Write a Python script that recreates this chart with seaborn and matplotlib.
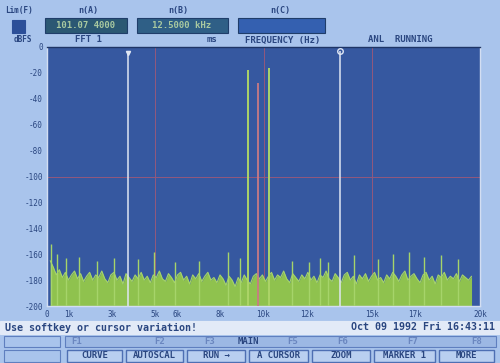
import numpy as np
import matplotlib
matplotlib.use("Agg")
import matplotlib.pyplot as plt
from matplotlib.patches import Rectangle
import seaborn as sns

sns.set_style("dark")
plt.rcParams['font.family'] = ['DejaVu Sans Mono', 'DejaVu Sans']

# ---- data ----
floor_start_hz = 150
floor_step_hz = 140
floor_db = [
    -165, -170, -176, -172, -178, -174, -180, -176, -173, -179,
    -175, -181, -177, -174, -180, -176, -178, -173, -179, -182,
    -176, -174, -180, -177, -183, -175, -178, -181, -176, -179,
    -174, -180, -177, -182, -176, -178, -173, -179, -181, -175,
    -178, -182, -176, -174, -180, -177, -183, -176, -179, -175,
    -181, -177, -174, -180, -178, -182, -176, -179, -184, -177,
    -180, -185, -178, -182, -176, -180, -183, -177, -175, -179,
    -176, -181, -177, -174, -180, -176, -178, -173, -179, -182,
    -175, -178, -181, -176, -179, -174, -180, -177, -182, -176,
    -178, -173, -179, -181, -175, -178, -182, -176, -174, -180,
    -177, -183, -176, -179, -175, -181, -177, -174, -180, -178,
    -182, -176, -179, -174, -177, -181, -176, -173, -180, -177,
    -175, -179, -182, -176, -174, -180, -177, -183, -176, -178,
    -174, -180, -177, -179, -175, -181, -176, -178, -180, -177,
]
spike_hz = [200, 450, 900, 1500, 2300, 3100, 4200, 4950, 5900, 7000, 8350,
            8900, 11300, 12100, 12600, 13000, 14200, 15300, 16000, 16700,
            17400, 18200, 19000]
spike_db = [-152, -160, -163, -162, -165, -163, -164, -158, -166, -165, -158,
            -163, -165, -166, -163, -166, -161, -164, -160, -158,
            -162, -161, -164]
tone_hz = [9300, 10250]
tone_db = [-18, -16]
ref_tone_hz = [9750]
ref_tone_db = [-28]
cursor_hz = [3750, 13550]
cursor_top_db = [-5, -3]

y_ticks = [0, -20, -40, -60, -80, -100, -120, -140, -160, -180, -200]
y_labels = ["0", "-20", "-40", "-60", "-80", "-100", "-120", "-140", "-160", "-180", "-200"]
x_ticks = [0, 1000, 3000, 5000, 6000, 8000, 10000, 12000, 15000, 17000, 20000]
x_labels = ["0", "1k", "3k", "5k", "6k", "8k", "10k", "12k", "15k", "17k", "20k"]

fkey_labels = ["F1", "F2", "F3", "MAIN", "F5", "F6", "F7", "F8"]
softkeys = ["CURVE", "AUTOSCAL", "RUN \u2192", "A CURSOR", "ZOOM", "MARKER 1", "MORE"]

# ---- colours ----
SCREEN = "#a9c4ec"
PLOT_BG = "#3658a0"
NAVY = "#2a4680"
GREEN = "#8fc24e"
TONE_GREEN = "#acd468"
TONE_RED = "#c97a84"
GRID_RED = "#93587c"
CURSOR = "#dfe6f3"

W, H = 500, 363
fig = plt.figure(figsize=(5.0, 3.63), dpi=100, facecolor=SCREEN)


def fx(px):
    return px / W


def fy(py):
    return 1 - py / H


def box(x0, y0, x1, y1, fc, ec=None, lw=0.8):
    fig.patches.append(Rectangle((fx(x0), fy(y1)), fx(x1 - x0), (y1 - y0) / H,
                                 transform=fig.transFigure, facecolor=fc,
                                 edgecolor=ec if ec else fc, lw=lw, zorder=0))


def label(px, py, s, size=6.5, ha="center", color=NAVY, weight="bold"):
    fig.text(fx(px), fy(py), s, fontsize=size, ha=ha, va="center",
             color=color, fontweight=weight)


# ---- header ----
label(5, 10, "Lim(F)", 5.5, ha="left")
box(12, 20, 25, 33, "#2c4f98")
label(14, 40, "dBFS", 5.5, ha="left")
label(88, 11, "n(A)", 6)
label(178, 11, "n(B)", 6)
label(280, 11, "n(C)", 6)
box(45, 18, 127, 33, "#2b5873", "#1f3d6a")
box(137, 18, 228, 33, "#2f5f86", "#1f3d6a")
box(238, 18, 325, 33, "#3460b0", "#1f3d6a")
label(86, 26, "101.07 4000", 6.5, color="#a9c9a0")
label(182, 26, "12.5000 kHz", 6.5, color="#a9c9a0")
label(88, 40, "FFT 1", 6.5)
label(212, 40, "ms", 6.5)
label(283, 40, "FREQUENCY (Hz)", 6.5)
label(400, 40, "ANL  RUNNING", 6.5)

# ---- spectrum plot ----
ax = fig.add_axes([fx(47), fy(306), fx(480 - 47), (306 - 47) / H])
ax.set_facecolor(PLOT_BG)

floor_hz = [floor_start_hz + i * floor_step_hz for i in range(len(floor_db))]
ax.fill_between(floor_hz, -200, floor_db, color=GREEN, lw=0, zorder=2)
sns.lineplot(x=floor_hz, y=floor_db, color="#a6d46a", lw=0.8, ax=ax, zorder=3)
ax.vlines(spike_hz, -200, spike_db, color="#a6d46a", lw=1.0, zorder=3)

for v in [5000, 10000, 15000]:
    ax.axvline(v, color=GRID_RED, lw=0.7, zorder=1)
ax.axhline(-100, color=GRID_RED, lw=0.7, zorder=1)

ax.vlines(tone_hz, -200, tone_db, color=TONE_GREEN, lw=1.4, zorder=4)
ax.vlines(ref_tone_hz, -200, ref_tone_db, color=TONE_RED, lw=1.3, zorder=4)
ax.vlines(cursor_hz, -200, cursor_top_db, color=CURSOR, lw=1.1, zorder=5)
ax.plot(cursor_hz[1], cursor_top_db[1], "o", ms=4, mfc="none", mec=CURSOR,
        mew=1.0, zorder=6)
ax.plot(cursor_hz[0], cursor_top_db[0], "v", ms=3, color=CURSOR, zorder=6)

ax.set_xlim(0, 20000)
ax.set_ylim(-200, 0)
ax.set_xticks(x_ticks)
ax.set_xticklabels(x_labels)
ax.set_yticks(y_ticks)
ax.set_yticklabels(y_labels)
ax.tick_params(axis="both", length=0, labelsize=5.5, labelcolor=NAVY, pad=3)
ax.grid(False)
ax.set_xlabel("")
ax.set_ylabel("")
for side, sp in ax.spines.items():
    sp.set_visible(True)
    sp.set_color("#d3def2")
    sp.set_linewidth(1.0)
ax.spines["top"].set_color("#1e3566")

# ---- status line ----
box(0, 321, 500, 334, "#e2eaf7")
label(5, 327.5, "Use softkey or cursor variation!", 7.2, ha="left")
label(495, 327.5, "Oct 09 1992 Fri 16:43:11", 7.2, ha="right")

# ---- function key rows ----
box(4, 336, 60, 347, SCREEN, "#5f7fbf")
box(4, 350, 60, 362, SCREEN, "#5f7fbf")
box(65, 336, 496, 347, "#9cb8e4", "#5f7fbf")
fkey_x = [77, 160, 210, 248, 293, 343, 413, 477]
for xx, s in zip(fkey_x, fkey_labels):
    label(xx, 341.5, s, 6.5, color="#6a86bf" if s != "MAIN" else NAVY)

key_edges = [65, 124, 185, 247, 310, 372, 437, 496]
for i, s in enumerate(softkeys):
    x0, x1 = key_edges[i] + 2, key_edges[i + 1] - 2
    box(x0, 350, x1, 362, "#b9cff0", "#4e6fb3", lw=1.0)
    label((x0 + x1) / 2, 356, s, 6.5)

fig.savefig("out.png", dpi=100, facecolor=SCREEN)
